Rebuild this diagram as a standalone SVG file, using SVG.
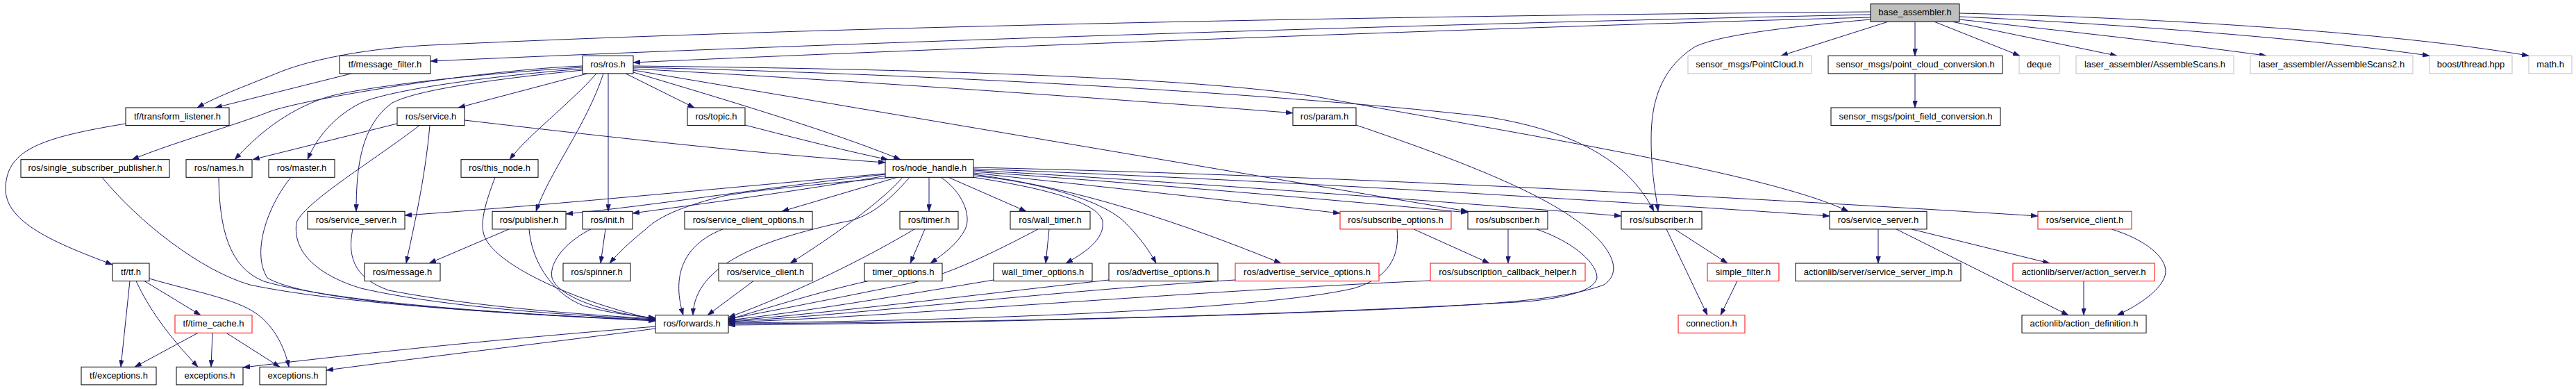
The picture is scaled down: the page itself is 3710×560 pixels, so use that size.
<svg xmlns="http://www.w3.org/2000/svg" width="3710" height="560" viewBox="0 0 3710 560">
<style>
.node rect{fill:#ffffff;stroke:#000000;stroke-width:1}
.node.gray rect{stroke:#bfbfbf}
.node.red rect{stroke:#ff0000}
.node.root rect{fill:#bfbfbf}
.node text{font-family:"Liberation Sans",Arial,sans-serif;font-size:13px;fill:#000000;text-anchor:middle}
#edges path{fill:none;stroke:#191970;stroke-width:1;marker-end:url(#arr)}
</style>
<defs>
<marker id="arr" markerUnits="userSpaceOnUse" markerWidth="10" markerHeight="7" refX="10" refY="3.5" orient="auto">
<path d="M0,0 L10,3.5 L0,7 z" fill="#191970" stroke="#191970" stroke-width="0.5"/>
</marker>
</defs>
<rect x="0" y="0" width="3710" height="560" fill="#ffffff"/>
<g id="edges">
<path d="M2694,17 C2000,23 1200,38 620,65 C520,70 440,88 400,105 C350,125 310,140 284,155"/>
<path d="M2694,21 C2000,36 1200,62 620,88"/>
<path d="M2694,25 C2200,38 1300,72 912,90"/>
<path d="M2694,28 C2560,40 2470,52 2440,68 C2390,100 2378,150 2378,200 C2378,250 2385,280 2388,304.3"/>
<path d="M2719,31.3 L2565,80.3"/>
<path d="M2758,31.3 L2758,80.3"/>
<path d="M2786,31.3 L2909,80.3"/>
<path d="M2812,31.3 L3049,80.3"/>
<path d="M2822,28 C2950,42 3150,64 3264,80.3"/>
<path d="M2822,24 C3050,34 3350,58 3499,80.3"/>
<path d="M2822,19 C3200,28 3500,55 3642,80.3"/>
<path d="M2758,105.9 L2758,155"/>
<path d="M839,95 C700,100 450,140 390,160 C340,180 250,205 190,229.7"/>
<path d="M839,97 C700,105 520,125 470,140 C410,160 370,195 338,229.7"/>
<path d="M839,99 C700,110 560,130 520,148 C480,168 455,200 443,229.7"/>
<path d="M839,101 C700,115 600,130 565,148 C520,180 513,240 513,304.3"/>
<path d="M846,105.9 L660,155"/>
<path d="M859,105.9 C820,150 760,195 734,229.7"/>
<path d="M869,105.9 C845,180 790,250 772,304.3"/>
<path d="M876,105.9 L876,304.3"/>
<path d="M901,105.9 L1000,155"/>
<path d="M912,104 C1050,145 1200,190 1297,229.7"/>
<path d="M912,99 C1300,120 1700,150 1862,162.7"/>
<path d="M912,101 L2114,304.3"/>
<path d="M912,95 C1400,100 1750,115 1900,140 C2200,195 2550,250 2662,304.3"/>
<path d="M912,97 C1400,108 1900,140 2140,168 C2280,190 2350,240 2382,304.3"/>
<path d="M572,178 L364,229.7"/>
<path d="M604,180.6 C540,230 440,290 427,320 C420,370 470,400 520,415 C650,445 850,455 944,460"/>
<path d="M619,180.6 C612,260 595,330 585,379"/>
<path d="M669,173 C900,200 1100,222 1275,234"/>
<path d="M1073,180 C1150,200 1230,220 1279,229.7"/>
<path d="M1953,180 C2100,230 2200,270 2260,310 C2320,350 2340,390 2310,410 C2250,432 2150,438 2000,445 C1700,458 1300,466 1049,468"/>
<path d="M181,178 C60,198 10,215 8,270 C6,320 80,350 162,381"/>
<path d="M147,255.3 C200,320 290,390 360,410 C500,440 800,455 944,462"/>
<path d="M315,255.3 C316,330 330,385 380,405 C500,440 800,455 944,461"/>
<path d="M419,255.3 C390,290 360,360 385,400 C450,440 800,455 944,461"/>
<path d="M713,255.3 C700,290 688,325 700,345 C725,390 850,440 944,460"/>
<path d="M1275,250 C1100,265 800,295 583,310"/>
<path d="M1275,251 C1100,270 950,295 815,308"/>
<path d="M1276,253 C1150,275 1000,295 911,307"/>
<path d="M1285,255.3 C1150,268 1080,275 1043,282 C990,295 950,310 930,330 C905,350 890,365 878,379"/>
<path d="M1292,255.3 L1126,304.3"/>
<path d="M1310,255.3 C1280,290 1250,315 1213,320 C1100,345 1000,380 998,453.7"/>
<path d="M1300,255.3 C1270,290 1200,340 1138,379"/>
<path d="M1338,255.3 L1338,304.3"/>
<path d="M1355,255.3 C1385,275 1400,310 1390,330 C1380,350 1360,365 1340,379"/>
<path d="M1366,255.3 L1478,304.3"/>
<path d="M1400,255 C1500,270 1580,290 1588,318 C1592,345 1560,365 1535,379"/>
<path d="M1402,253 C1500,262 1590,290 1620,320 C1640,340 1655,360 1665,379"/>
<path d="M1402,251 C1550,270 1700,320 1845,379"/>
<path d="M1402,249 C1600,270 1800,292 1930,307"/>
<path d="M1402,247 C1700,268 2000,295 2114,306"/>
<path d="M1402,245 C1800,268 2200,300 2335,311"/>
<path d="M1402,243 C1900,262 2400,295 2635,311"/>
<path d="M1402,241 C2000,255 2600,290 2935,311"/>
<path d="M508,329.9 C500,370 510,400 560,418 C700,445 880,455 944,459"/>
<path d="M733,329.9 L618,379"/>
<path d="M762,329.9 C765,370 790,420 840,440 C880,452 920,455 944,458"/>
<path d="M872,329.9 L865,379"/>
<path d="M851,329.9 C820,345 790,375 795,400 C805,430 880,452 944,458"/>
<path d="M1041,329.9 C990,350 965,390 984,453.7"/>
<path d="M1332,329.9 L1311,379"/>
<path d="M1317,329.9 C1250,370 1150,420 1049,457"/>
<path d="M1511,329.9 L1506,379"/>
<path d="M1495,329.9 C1400,380 1350,400 1300,410 C1200,430 1100,450 1049,459"/>
<path d="M1085,404.6 L1019,453.7"/>
<path d="M1250,404.6 C1180,420 1100,445 1049,460"/>
<path d="M1431,403 C1300,425 1150,450 1049,461"/>
<path d="M1597,403 C1400,425 1200,450 1049,462"/>
<path d="M1779,403 C1500,420 1250,452 1049,463"/>
<path d="M2036,329.9 L2145,379"/>
<path d="M2012,329.9 C2016,370 2000,400 1950,415 C1800,450 1300,463 1049,465"/>
<path d="M2172,329.9 L2172,379"/>
<path d="M2213,329.9 C2270,350 2300,380 2300,400 C2296,418 2260,428 2200,434 C1800,458 1300,465 1049,466"/>
<path d="M2060,404 C1700,420 1300,455 1049,464"/>
<path d="M2400,329.9 L2459,453.7"/>
<path d="M2412,329.9 L2488,379"/>
<path d="M2502,404.6 L2478,453.7"/>
<path d="M2705,329.9 L2705,379"/>
<path d="M2731,329.9 L2979,453.7"/>
<path d="M2753,329.9 L2952,379"/>
<path d="M3001,404.6 L3001,453.7"/>
<path d="M3041,329.9 C3090,345 3120,370 3119,392 C3117,415 3080,440 3049,453.7"/>
<path d="M187,404.6 L174,528.3"/>
<path d="M196,404.6 C215,445 240,480 285,528.3"/>
<path d="M208,404.6 L289,453.7"/>
<path d="M215,401 C280,420 340,430 370,452 C395,470 410,500 416,528.3"/>
<path d="M285,479.3 L194,528.3"/>
<path d="M306,479.3 L304,528.3"/>
<path d="M326,479.3 L403,528.3"/>
<path d="M944,470 C800,482 620,497 350,529"/>
<path d="M944,473 C800,492 620,513 470,533"/>
<path d="M506,105.9 L310,155"/>
</g>
<g id="n_base" class="node root"><rect x="2694" y="5.7" width="128" height="25.6"/><text x="2758" y="22.2">base_assembler.h</text></g>
<g id="n_mf" class="node"><rect x="489" y="80.3" width="131" height="25.6"/><text x="554.5" y="96.8">tf/message_filter.h</text></g>
<g id="n_ros" class="node"><rect x="839" y="80.3" width="73" height="25.6"/><text x="875.5" y="96.8">ros/ros.h</text></g>
<g id="n_pc" class="node gray"><rect x="2431" y="80.3" width="178" height="25.6"/><text x="2520" y="96.8">sensor_msgs/PointCloud.h</text></g>
<g id="n_pcc" class="node"><rect x="2633" y="80.3" width="251" height="25.6"/><text x="2758.5" y="96.8">sensor_msgs/point_cloud_conversion.h</text></g>
<g id="n_deque" class="node gray"><rect x="2908" y="80.3" width="58" height="25.6"/><text x="2937" y="96.8">deque</text></g>
<g id="n_as" class="node gray"><rect x="2990" y="80.3" width="227" height="25.6"/><text x="3103.5" y="96.8">laser_assembler/AssembleScans.h</text></g>
<g id="n_as2" class="node gray"><rect x="3241" y="80.3" width="234" height="25.6"/><text x="3358" y="96.8">laser_assembler/AssembleScans2.h</text></g>
<g id="n_bt" class="node gray"><rect x="3499" y="80.3" width="119" height="25.6"/><text x="3558.5" y="96.8">boost/thread.hpp</text></g>
<g id="n_math" class="node gray"><rect x="3642" y="80.3" width="62" height="25.6"/><text x="3673" y="96.8">math.h</text></g>
<g id="n_tl" class="node"><rect x="181" y="155" width="149" height="25.6"/><text x="255.5" y="171.5">tf/transform_listener.h</text></g>
<g id="n_srv" class="node"><rect x="572" y="155" width="97" height="25.6"/><text x="620.5" y="171.5">ros/service.h</text></g>
<g id="n_topic" class="node"><rect x="990" y="155" width="83" height="25.6"/><text x="1031.5" y="171.5">ros/topic.h</text></g>
<g id="n_param" class="node"><rect x="1862" y="155" width="91" height="25.6"/><text x="1907.5" y="171.5">ros/param.h</text></g>
<g id="n_pfc" class="node"><rect x="2637" y="155" width="244" height="25.6"/><text x="2759" y="171.5">sensor_msgs/point_field_conversion.h</text></g>
<g id="n_ssp" class="node"><rect x="30" y="229.7" width="214" height="25.6"/><text x="137" y="246.2">ros/single_subscriber_publisher.h</text></g>
<g id="n_names" class="node"><rect x="268" y="229.7" width="95" height="25.6"/><text x="315.5" y="246.2">ros/names.h</text></g>
<g id="n_master" class="node"><rect x="387" y="229.7" width="95" height="25.6"/><text x="434.5" y="246.2">ros/master.h</text></g>
<g id="n_thisnode" class="node"><rect x="664" y="229.7" width="111" height="25.6"/><text x="719.5" y="246.2">ros/this_node.h</text></g>
<g id="n_nh" class="node"><rect x="1275" y="229.7" width="127" height="25.6"/><text x="1338.5" y="246.2">ros/node_handle.h</text></g>
<g id="n_ss1" class="node"><rect x="443" y="304.3" width="140" height="25.6"/><text x="513" y="320.8">ros/service_server.h</text></g>
<g id="n_pub" class="node"><rect x="709" y="304.3" width="106" height="25.6"/><text x="762" y="320.8">ros/publisher.h</text></g>
<g id="n_init" class="node"><rect x="839" y="304.3" width="72" height="25.6"/><text x="875" y="320.8">ros/init.h</text></g>
<g id="n_sco" class="node"><rect x="986" y="304.3" width="184" height="25.6"/><text x="1078" y="320.8">ros/service_client_options.h</text></g>
<g id="n_timer" class="node"><rect x="1296" y="304.3" width="84" height="25.6"/><text x="1338" y="320.8">ros/timer.h</text></g>
<g id="n_wt" class="node"><rect x="1455" y="304.3" width="115" height="25.6"/><text x="1512.5" y="320.8">ros/wall_timer.h</text></g>
<g id="n_so" class="node red"><rect x="1930" y="304.3" width="160" height="25.6"/><text x="2010" y="320.8">ros/subscribe_options.h</text></g>
<g id="n_sub1" class="node"><rect x="2114" y="304.3" width="115" height="25.6"/><text x="2171.5" y="320.8">ros/subscriber.h</text></g>
<g id="n_sub2" class="node"><rect x="2335" y="304.3" width="116" height="25.6"/><text x="2393" y="320.8">ros/subscriber.h</text></g>
<g id="n_ss2" class="node"><rect x="2635" y="304.3" width="140" height="25.6"/><text x="2705" y="320.8">ros/service_server.h</text></g>
<g id="n_sc2" class="node red"><rect x="2935" y="304.3" width="135" height="25.6"/><text x="3002.5" y="320.8">ros/service_client.h</text></g>
<g id="n_tf" class="node"><rect x="162" y="379" width="53" height="25.6"/><text x="188.5" y="395.5">tf/tf.h</text></g>
<g id="n_msg" class="node"><rect x="525" y="379" width="109" height="25.6"/><text x="579.5" y="395.5">ros/message.h</text></g>
<g id="n_spin" class="node"><rect x="811" y="379" width="97" height="25.6"/><text x="859.5" y="395.5">ros/spinner.h</text></g>
<g id="n_sc1" class="node"><rect x="1035" y="379" width="135" height="25.6"/><text x="1102.5" y="395.5">ros/service_client.h</text></g>
<g id="n_to" class="node"><rect x="1245" y="379" width="112" height="25.6"/><text x="1301" y="395.5">timer_options.h</text></g>
<g id="n_wto" class="node"><rect x="1431" y="379" width="142" height="25.6"/><text x="1502" y="395.5">wall_timer_options.h</text></g>
<g id="n_ao" class="node"><rect x="1597" y="379" width="157" height="25.6"/><text x="1675.5" y="395.5">ros/advertise_options.h</text></g>
<g id="n_aso" class="node red"><rect x="1779" y="379" width="207" height="25.6"/><text x="1882.5" y="395.5">ros/advertise_service_options.h</text></g>
<g id="n_sch" class="node red"><rect x="2060" y="379" width="223" height="25.6"/><text x="2171.5" y="395.5">ros/subscription_callback_helper.h</text></g>
<g id="n_sf" class="node red"><rect x="2459" y="379" width="103" height="25.6"/><text x="2510.5" y="395.5">simple_filter.h</text></g>
<g id="n_ssi" class="node"><rect x="2586" y="379" width="238" height="25.6"/><text x="2705" y="395.5">actionlib/server/service_server_imp.h</text></g>
<g id="n_asrv" class="node red"><rect x="2899" y="379" width="204" height="25.6"/><text x="3001" y="395.5">actionlib/server/action_server.h</text></g>
<g id="n_tc" class="node red"><rect x="252" y="453.7" width="111" height="25.6"/><text x="307.5" y="470.2">tf/time_cache.h</text></g>
<g id="n_fwd" class="node"><rect x="944" y="453.7" width="105" height="25.6"/><text x="996.5" y="470.2">ros/forwards.h</text></g>
<g id="n_conn" class="node red"><rect x="2417" y="453.7" width="96" height="25.6"/><text x="2465" y="470.2">connection.h</text></g>
<g id="n_ad" class="node"><rect x="2912" y="453.7" width="179" height="25.6"/><text x="3001.5" y="470.2">actionlib/action_definition.h</text></g>
<g id="n_tfex" class="node"><rect x="117" y="528.3" width="108" height="25.6"/><text x="171" y="544.8">tf/exceptions.h</text></g>
<g id="n_ex1" class="node"><rect x="254" y="528.3" width="96" height="25.6"/><text x="302" y="544.8">exceptions.h</text></g>
<g id="n_ex2" class="node"><rect x="374" y="528.3" width="96" height="25.6"/><text x="422" y="544.8">exceptions.h</text></g>
</svg>
